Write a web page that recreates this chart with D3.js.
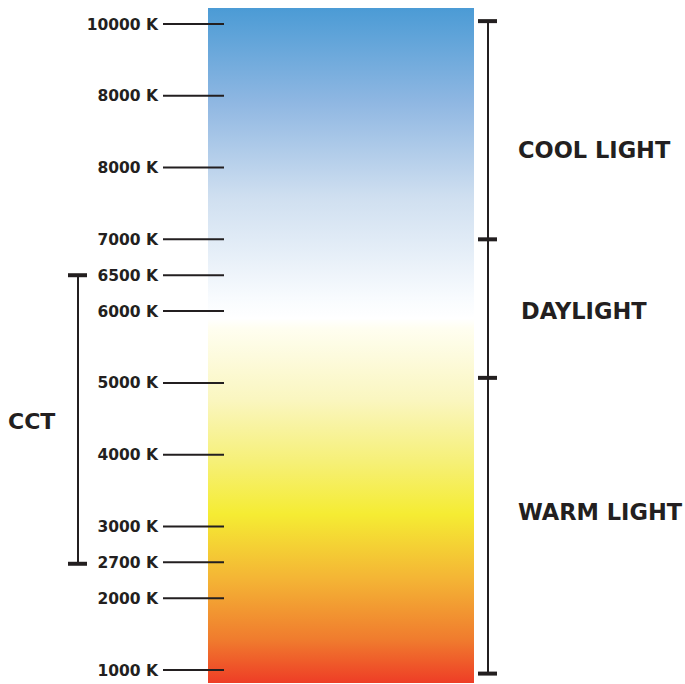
<!DOCTYPE html>
<html>
<head>
<meta charset="utf-8">
<script src="https://cdn.jsdelivr.net/npm/d3@7"></script>
<style>
  html, body { margin: 0; padding: 0; background: #fff; }
  svg { display: block; }
  text { font-family: "DejaVu Sans", sans-serif; font-weight: bold; fill: #231f20; }
</style>
</head>
<body>
<svg></svg>
<script>
// Tick labels (top to bottom) and their slot on the scale
const tickLabels = ["10000 K", "8000 K", "8000 K", "7000 K", "6500 K", "6000 K",
                    "5000 K", "4000 K", "3000 K", "2700 K", "2000 K", "1000 K"];
const tickSlots  = [0, 1, 2, 3, 3.5, 4, 5, 6, 7, 7.5, 8, 9];

// Light ranges on the right bracket (slot bounds)
const rangeNames  = ["COOL LIGHT", "DAYLIGHT", "WARM LIGHT"];
const rangeBounds = [-0.04, 3, 4.93, 9.05];

// CCT bracket on the left
const cctName = "CCT";
const cctSlots = [3.5, 7.52];

// Colour stops of the scale bar (offset, colour)
const stopOffsets = [0, 0.14, 0.28, 0.43, 0.46, 0.475, 0.58, 0.67, 0.75, 0.845, 0.935, 1];
const stopColors  = ["#4b9bd5", "#8fb7e2", "#cfdff0", "#f8fbfe", "#ffffff", "#fffef0",
                     "#faf6c0", "#f6f079", "#f5ec33", "#f4b535", "#f07c2e", "#ee3d26"];

const width = 685, height = 684;
const barX = 208, barW = 266, barTop = 8, barBottom = 683;

const svg = d3.select("svg")
  .attr("width", width)
  .attr("height", height);

const y = d3.scaleLinear().domain([0, 9]).range([24, 670]);

const defs = svg.append("defs");
const grad = defs.append("linearGradient")
  .attr("id", "cct")
  .attr("x1", 0).attr("y1", 0)
  .attr("x2", 0).attr("y2", 1);
grad.selectAll("stop")
  .data(stopOffsets)
  .enter().append("stop")
  .attr("offset", d => d)
  .attr("stop-color", (d, i) => stopColors[i]);

svg.append("rect")
  .attr("x", barX)
  .attr("y", barTop)
  .attr("width", barW)
  .attr("height", barBottom - barTop)
  .attr("fill", "url(#cct)");

// ticks
const ticks = svg.append("g").selectAll("g")
  .data(tickSlots)
  .enter().append("g")
  .attr("transform", d => "translate(0," + y(d) + ")");

ticks.append("line")
  .attr("x1", 163).attr("x2", 224)
  .attr("stroke", "#231f20")
  .attr("stroke-width", 2);

ticks.append("text")
  .attr("x", 158)
  .attr("y", 5.5)
  .attr("text-anchor", "end")
  .style("font-size", "15.5px")
  .text((d, i) => tickLabels[i]);

// right bracket
const bx = 488;
svg.append("line")
  .attr("x1", bx).attr("x2", bx)
  .attr("y1", y(rangeBounds[0])).attr("y2", y(rangeBounds[3]))
  .attr("stroke", "#231f20")
  .attr("stroke-width", 2);

svg.append("g").selectAll("line")
  .data(rangeBounds)
  .enter().append("line")
  .attr("x1", bx - 10).attr("x2", bx + 9)
  .attr("y1", d => y(d)).attr("y2", d => y(d))
  .attr("stroke", "#231f20")
  .attr("stroke-width", 4);

const labelY = [158, 319, 520];   // baselines
const labelX = [518, 521, 518];
svg.append("g").selectAll("text")
  .data(rangeNames)
  .enter().append("text")
  .attr("x", (d, i) => labelX[i])
  .attr("y", (d, i) => labelY[i])
  .style("font-size", "22.5px")
  .text(d => d);

// left CCT bracket
const cx = 78;
svg.append("line")
  .attr("x1", cx).attr("x2", cx)
  .attr("y1", y(cctSlots[0])).attr("y2", y(cctSlots[1]))
  .attr("stroke", "#231f20")
  .attr("stroke-width", 2);

svg.append("g").selectAll("line")
  .data(cctSlots)
  .enter().append("line")
  .attr("x1", cx - 10).attr("x2", cx + 9)
  .attr("y1", d => y(d)).attr("y2", d => y(d))
  .attr("stroke", "#231f20")
  .attr("stroke-width", 4);

svg.append("text")
  .attr("x", 8)
  .attr("y", 429)
  .style("font-size", "22px")
  .text(cctName);
</script>
</body>
</html>
